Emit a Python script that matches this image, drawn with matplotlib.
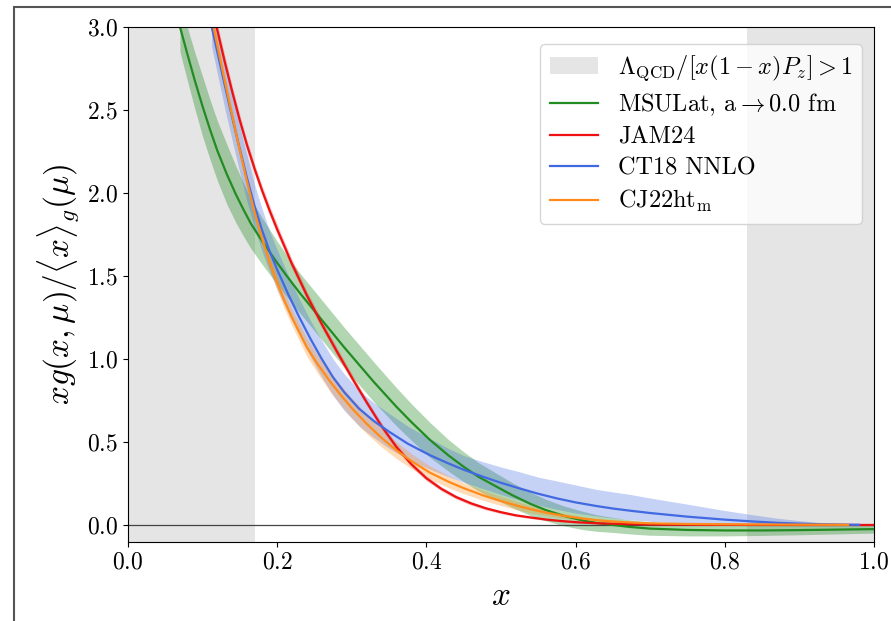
import numpy as np
import matplotlib
matplotlib.use("Agg")
import matplotlib.pyplot as plt
from matplotlib.patches import Rectangle

plt.rcParams['font.family'] = 'serif'
plt.rcParams['font.serif'] = ['cmr10']
plt.rcParams['mathtext.fontset'] = 'cm'
plt.rcParams['axes.formatter.use_mathtext'] = True
plt.rcParams['axes.unicode_minus'] = False

# shaded region edges (Lambda_QCD / [x(1-x)Pz] > 1)
cut_lo = 0.17
cut_hi = 0.83

# MSULat, a -> 0 (green)
msu_x = [0.070, 0.080, 0.090, 0.100, 0.110, 0.120, 0.133, 0.145, 0.155, 0.165,
         0.18, 0.20, 0.213, 0.23, 0.25, 0.27, 0.29, 0.31, 0.33, 0.36,
         0.38, 0.405, 0.43, 0.45, 0.47, 0.494, 0.515, 0.539, 0.56, 0.584,
         0.61, 0.628, 0.65, 0.673, 0.70, 0.75, 0.80, 0.85, 0.90, 0.95, 1.00]
msu_y = [3.00, 2.835, 2.675, 2.525, 2.385, 2.255, 2.11, 1.99, 1.90, 1.815,
         1.71, 1.58, 1.50, 1.40, 1.29, 1.18, 1.07, 0.965, 0.86, 0.712,
         0.62, 0.512, 0.418, 0.351, 0.29, 0.231, 0.18, 0.128, 0.09, 0.055,
         0.027, 0.012, 0.0, -0.012, -0.022, -0.03, -0.033, -0.033, -0.031, -0.028, -0.025]
msu_err = [0.15, 0.16, 0.17, 0.18, 0.18, 0.18, 0.18, 0.17, 0.16, 0.15,
           0.14, 0.13, 0.125, 0.12, 0.12, 0.12, 0.12, 0.12, 0.12, 0.115,
           0.11, 0.105, 0.095, 0.09, 0.085, 0.08, 0.075, 0.07, 0.065, 0.06,
           0.055, 0.05, 0.045, 0.042, 0.04, 0.036, 0.033, 0.03, 0.028, 0.026, 0.024]

# JAM24 (red)
jam_x = [0.119, 0.13, 0.14, 0.15, 0.16, 0.17, 0.18, 0.19, 0.20, 0.22,
         0.24, 0.26, 0.28, 0.30, 0.32, 0.34, 0.36, 0.38, 0.40, 0.42,
         0.44, 0.46, 0.48, 0.50, 0.52, 0.54, 0.56, 0.58, 0.60, 0.63,
         0.67, 0.72, 0.80, 0.90, 1.00]
jam_y = [3.00, 2.79, 2.61, 2.44, 2.285, 2.145, 2.015, 1.895, 1.783, 1.573,
         1.383, 1.21, 1.047, 0.89, 0.74, 0.596, 0.47, 0.366, 0.282, 0.218,
         0.168, 0.13, 0.10, 0.077, 0.058, 0.045, 0.033, 0.024, 0.017, 0.010,
         0.005, 0.002, 0.0005, 0.0, 0.0]
jam_err = [0.04, 0.04, 0.035, 0.035, 0.03, 0.03, 0.03, 0.03, 0.03, 0.028,
           0.026, 0.025, 0.024, 0.022, 0.02, 0.02, 0.018, 0.016, 0.015, 0.013,
           0.012, 0.011, 0.01, 0.009, 0.008, 0.007, 0.006, 0.005, 0.005, 0.004,
           0.003, 0.003, 0.002, 0.002, 0.002]

# CT18 NNLO (blue)
ct_x = [0.1125, 0.12, 0.13, 0.14, 0.15, 0.16, 0.17, 0.18, 0.19, 0.20,
        0.215, 0.23, 0.245, 0.26, 0.275, 0.29, 0.31, 0.33, 0.35, 0.375,
        0.405, 0.43, 0.45, 0.475, 0.50, 0.525, 0.55, 0.575, 0.60, 0.628,
        0.65, 0.673, 0.70, 0.75, 0.80, 0.838, 0.87, 0.90, 0.93, 0.96, 0.98]
ct_y = [3.00, 2.85, 2.65, 2.455, 2.265, 2.085, 1.92, 1.775, 1.65, 1.54,
        1.39, 1.25, 1.12, 1.00, 0.89, 0.80, 0.70, 0.625, 0.562, 0.49,
        0.42, 0.37, 0.333, 0.292, 0.254, 0.22, 0.188, 0.16, 0.136, 0.114,
        0.099, 0.086, 0.072, 0.05, 0.032, 0.021, 0.013, 0.008, 0.004, 0.002, 0.001]
ct_up = [0.12, 0.13, 0.14, 0.14, 0.14, 0.14, 0.13, 0.13, 0.12, 0.12,
         0.115, 0.11, 0.11, 0.11, 0.11, 0.11, 0.11, 0.11, 0.11, 0.105,
         0.10, 0.09, 0.085, 0.09, 0.095, 0.10, 0.10, 0.105, 0.105, 0.10,
         0.10, 0.098, 0.09, 0.075, 0.055, 0.04, 0.028, 0.018, 0.01, 0.005, 0.003]
ct_dn = [0.12, 0.13, 0.14, 0.14, 0.14, 0.14, 0.13, 0.13, 0.12, 0.12,
         0.115, 0.11, 0.11, 0.11, 0.11, 0.11, 0.105, 0.10, 0.10, 0.095,
         0.085, 0.08, 0.075, 0.072, 0.07, 0.07, 0.068, 0.066, 0.064, 0.06,
         0.057, 0.055, 0.05, 0.04, 0.03, 0.02, 0.012, 0.007, 0.004, 0.002, 0.001]

# CJ22ht_m (orange)
cj_x = [0.115, 0.12, 0.13, 0.14, 0.15, 0.16, 0.17, 0.18, 0.19, 0.20,
        0.21, 0.22, 0.24, 0.255, 0.271, 0.285, 0.30, 0.32, 0.34, 0.36,
        0.38, 0.405, 0.43, 0.45, 0.475, 0.494, 0.52, 0.539, 0.56, 0.584,
        0.61, 0.628, 0.65, 0.673, 0.70, 0.75, 0.80, 0.85, 0.90, 0.965]
cj_y = [3.00, 2.89, 2.675, 2.465, 2.26, 2.065, 1.885, 1.725, 1.585, 1.46,
        1.35, 1.25, 1.07, 0.965, 0.865, 0.785, 0.705, 0.61, 0.525, 0.45,
        0.385, 0.315, 0.26, 0.222, 0.18, 0.152, 0.118, 0.096, 0.075, 0.055,
        0.038, 0.029, 0.021, 0.015, 0.010, 0.006, 0.004, 0.003, 0.002, 0.001]
cj_err = [0.04, 0.04, 0.04, 0.04, 0.04, 0.04, 0.04, 0.04, 0.045, 0.045,
          0.05, 0.05, 0.055, 0.055, 0.06, 0.06, 0.06, 0.06, 0.055, 0.05,
          0.045, 0.04, 0.036, 0.033, 0.03, 0.028, 0.025, 0.022, 0.018, 0.015,
          0.012, 0.01, 0.008, 0.007, 0.006, 0.004, 0.003, 0.003, 0.002, 0.002]

c_green = '#228b22'
c_red = '#ee1111'
c_blue = '#4169e1'
c_orange = '#ff8c1a'

fig = plt.figure(figsize=(8.91, 6.21), dpi=100)
ax = fig.add_axes([0.1433, 0.1279, 0.8377, 0.8291])

# outer frame, cut by the image edge at right and bottom
fig.patches.append(Rectangle((14 / 891, -0.1), 1.2, 1.1 - 7 / 621, transform=fig.transFigure,
                             fill=False, edgecolor='#555555', lw=1.5))

ax.axvspan(0.0, cut_lo, color='gray', alpha=0.2, lw=0,
           label=r'$\Lambda_{\rm QCD}/[x(1-x)P_z] > 1$')
ax.axvspan(cut_hi, 1.0, color='gray', alpha=0.2, lw=0)
ax.axhline(0.0, color='#444444', lw=0.9)

msu_y = np.array(msu_y); msu_err = np.array(msu_err)
jam_y = np.array(jam_y); jam_err = np.array(jam_err)
ct_y = np.array(ct_y)
cj_y = np.array(cj_y); cj_err = np.array(cj_err)

ax.fill_between(msu_x, msu_y - msu_err, msu_y + msu_err, color=c_green, alpha=0.35, lw=0)
ax.plot(msu_x, msu_y, color=c_green, lw=1.6, label=r'MSULat, $\mathrm{a}\rightarrow 0.0$ fm')

ax.fill_between(jam_x, jam_y - jam_err, jam_y + jam_err, color=c_red, alpha=0.25, lw=0)
ax.plot(jam_x, jam_y, color=c_red, lw=1.6, label='JAM24')

ax.fill_between(ct_x, ct_y - np.array(ct_dn), ct_y + np.array(ct_up), color=c_blue, alpha=0.3, lw=0)
ax.plot(ct_x, ct_y, color=c_blue, lw=1.6, label='CT18 NNLO')

ax.fill_between(cj_x, cj_y - cj_err, cj_y + cj_err, color=c_orange, alpha=0.3, lw=0)
ax.plot(cj_x, cj_y, color=c_orange, lw=1.6, label=r'CJ22ht$_{\rm m}$')

ax.set_xlim(0.0, 1.0)
ax.set_ylim(-0.1, 3.0)
ax.set_xticks([0.0, 0.2, 0.4, 0.6, 0.8, 1.0])
ax.set_yticks([0.0, 0.5, 1.0, 1.5, 2.0, 2.5, 3.0])
ax.tick_params(labelsize=17)
ax.set_xlabel(r'$x$', fontsize=24, labelpad=6)
ax.set_ylabel(r'$xg(x,\mu)/\langle x\rangle_g(\mu)$', fontsize=24)

ax.legend(loc='upper right', fontsize=17.5, handlelength=2.0, labelspacing=0.35,
          bbox_to_anchor=(1.0, 0.99))

fig.savefig('out.png', dpi=100)
